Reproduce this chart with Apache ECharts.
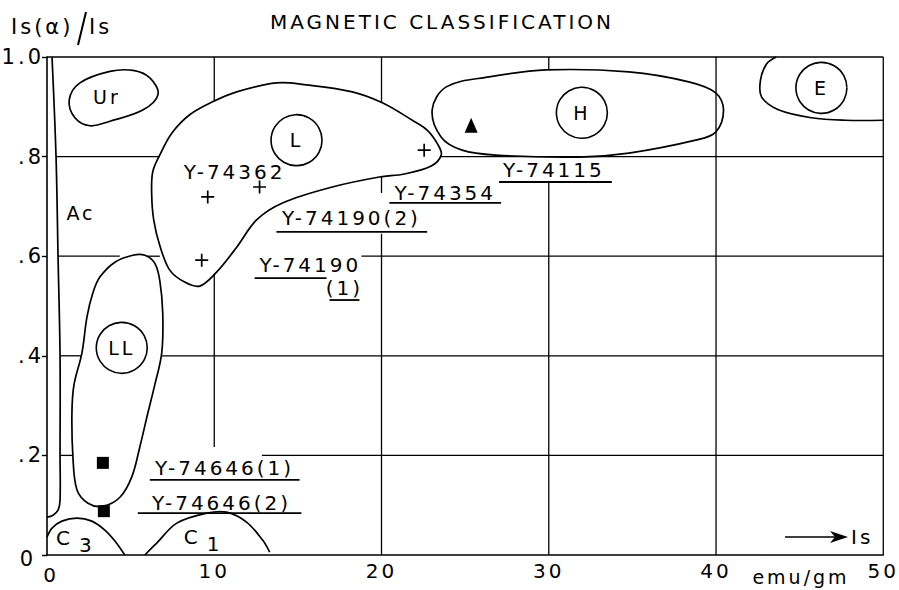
<!DOCTYPE html>
<html>
<head>
<meta charset="utf-8">
<script src="https://cdn.jsdelivr.net/npm/echarts@6/dist/echarts.min.js"></script>
<style>
  html, body { margin: 0; padding: 0; background: #fff; }
  #chart { width: 899px; height: 590px; }
  #chart text { letter-spacing: 3px; }
</style>
</head>
<body>
<div id="chart"></div>
<script>
// Axis ticks and labels
const xTicks = [0, 10, 20, 30, 40, 50];
const yTickLabels = ['0', '.2', '.4', '.6', '.8', '1.0'];

// Class boundaries, points given as [Is (emu/gm), Is(α)/Is]
const urOutline = [[1.33, 0.914], [1.97, 0.948], [3.76, 0.971], [5.15, 0.973], [6.15, 0.958], [6.64, 0.925],
  [5.75, 0.894], [3.76, 0.871], [2.57, 0.862], [1.67, 0.878]];
const lOutline = [[6.26, 0.723], [6.32, 0.769], [6.74, 0.803], [7.46, 0.847], [8.53, 0.884], [9.90, 0.910],
  [11.34, 0.930], [13.72, 0.948], [15.51, 0.944], [18.26, 0.930], [20.05, 0.908], [21.84, 0.873],
  [22.73, 0.853], [23.39, 0.823], [23.57, 0.803], [22.97, 0.781], [21.36, 0.765], [19.87, 0.759],
  [17.06, 0.739], [14.08, 0.707], [12.53, 0.673], [11.34, 0.618], [10.14, 0.568], [9.13, 0.540],
  [8.23, 0.548], [7.34, 0.572], [6.74, 0.622], [6.38, 0.673]];
const hOutline = [[23.03, 0.894], [23.87, 0.940], [26.43, 0.960], [29.83, 0.974], [34.79, 0.970], [38.37, 0.950],
  [39.98, 0.928], [40.45, 0.894], [39.98, 0.849], [38.78, 0.833], [34.79, 0.807], [31.80, 0.799],
  [26.85, 0.803], [24.82, 0.813], [23.57, 0.839]];
const eOutline = [[43.6, 1.0], [43.02, 0.986], [42.66, 0.954], [42.72, 0.920], [43.73, 0.894], [45.70, 0.878],
  [47.73, 0.873], [50.0, 0.873]];
const llOutline = [[5.13, 0.602], [5.85, 0.602], [6.44, 0.586], [6.74, 0.552], [6.92, 0.486], [6.86, 0.406],
  [6.44, 0.341], [6.03, 0.285], [5.55, 0.217], [5.07, 0.157], [4.36, 0.116], [3.34, 0.098], [2.45, 0.104],
  [1.79, 0.131], [1.55, 0.197], [1.49, 0.285], [1.61, 0.341], [2.09, 0.406], [2.39, 0.478], [2.74, 0.526],
  [3.16, 0.558], [4.06, 0.588]];
const c3Outline = [[0, 0.036], [0.30, 0.054], [0.89, 0.068], [1.79, 0.074], [2.68, 0.068], [3.46, 0.050],
  [4.06, 0.028], [4.65, 0]];
const c1Outline = [[5.85, 0], [6.56, 0.024], [7.76, 0.064], [9.55, 0.084], [10.74, 0.086], [11.93, 0.066],
  [12.89, 0.030], [13.31, 0.006]];
const acBoundary = [[0.3, 1.0], [0.54, 0.8], [0.66, 0.6], [0.78, 0.4], [0.78, 0.2], [0.78, 0.11],
  [0.66, 0.09], [0.36, 0.08], [0, 0.076]];

// Straight dividers [x1, y1, x2, y2]
const dividers = [
  [0, 1, 50, 1], [50, 1, 50, 0],
  [0.54, 0.8, 6.74, 0.8], [23.57, 0.8, 50, 0.8],
  [0.66, 0.6, 4.35, 0.6], [5.95, 0.6, 6.75, 0.6], [18.8, 0.6, 50, 0.6],
  [0.78, 0.4, 2.09, 0.4], [6.86, 0.4, 50, 0.4],
  [0.78, 0.2, 1.55, 0.2], [12.85, 0.2, 50, 0.2],
  [10, 1, 10, 0.91], [10, 0.565, 10, 0.217],
  [20, 1, 20, 0.908], [20, 0.759, 20, 0.727], [20, 0.645, 20, 0],
  [30, 1, 30, 0.975], [30, 0.749, 30, 0],
  [40, 1, 40, 0]
];

// Samples
const lSamples = [[9.61, 0.719], [12.71, 0.739], [9.25, 0.592], [22.55, 0.813]];
const hSamples = [[25.36, 0.863]];
const llSamples = [[3.34, 0.185], [3.40, 0.088]];

// Sample names and their underlines [x1, x2, y]
const sampleNames = ['Y-74362', 'Y-74190(2)', 'Y-74190', '(1)', 'Y-74354', 'Y-74115', 'Y-74646(1)', 'Y-74646(2)'];
const sampleNameAt = [[11.22, 0.769], [18.2, 0.677], [15.75, 0.582], [17.78, 0.536], [23.81, 0.727],
  [30.31, 0.773], [10.62, 0.175], [10.44, 0.104]];
const sampleRules = [[13.72, 22.73, 0.649], [12.41, 16.71, 0.556], [16.89, 18.68, 0.512], [20.47, 27.15, 0.707],
  [27.03, 33.77, 0.749], [6.15, 15.1, 0.151], [5.43, 15.21, 0.084]];

// Class names
const ringedClasses = ['L', 'H', 'E', 'LL'];
const ringedAt = [[14.92, 0.833], [31.98, 0.888], [46.3, 0.938], [4.47, 0.416]];
const plainClasses = ['Ur', 'Ac'];
const plainAt = [[3.58, 0.92], [2.03, 0.687]];
const subClasses = [['C', '3'], ['C', '1']];
const subAt = [[1.79, 0.030], [9.43, 0.032]];

const FONT = '"DejaVu Sans", sans-serif';
const INK = '#000';

function curve(pts, closed) {
  return {
    type: 'custom', coordinateSystem: 'cartesian2d', silent: true, clip: false, z: 3,
    data: [pts[0]],
    renderItem: (params, api) => ({
      type: closed ? 'polygon' : 'polyline',
      shape: { points: pts.map(p => api.coord(p)), smooth: 0.35 },
      style: { fill: 'none', stroke: INK, lineWidth: 1.7 }
    })
  };
}

function segments(data, width) {
  return {
    type: 'custom', coordinateSystem: 'cartesian2d', silent: true, clip: false, z: 2,
    data: data,
    encode: { x: [0, 2], y: [1, 3] },
    renderItem: (params, api) => {
      const a = api.coord([api.value(0), api.value(1)]);
      const b = api.coord([api.value(2), api.value(3)]);
      return { type: 'line', shape: { x1: a[0], y1: a[1], x2: b[0], y2: b[1] },
        style: { stroke: INK, lineWidth: width } };
    }
  };
}

function texts(names, at, size) {
  return {
    type: 'custom', coordinateSystem: 'cartesian2d', silent: true, clip: false, z: 5,
    data: at.map((p, i) => [p[0], p[1], i]),
    renderItem: (params, api) => {
      const c = api.coord([api.value(0), api.value(1)]);
      return { type: 'text', x: c[0], y: c[1],
        style: { text: names[api.value(2)], fontSize: size, fontFamily: FONT, fill: '#000',
          align: 'center', verticalAlign: 'middle' } };
    }
  };
}

const chart = echarts.init(document.getElementById('chart'), null, { renderer: 'svg' });

chart.setOption({
  backgroundColor: '#fff',
  animation: false,
  grid: { left: 47, right: 14, top: 57, bottom: 35 },
  xAxis: {
    type: 'value', min: xTicks[0], max: xTicks[xTicks.length - 1], interval: 10,
    axisLine: { lineStyle: { color: INK, width: 1.6 } },
    axisTick: { show: false }, splitLine: { show: false },
    axisLabel: { color: '#000', fontSize: 20, fontFamily: FONT, margin: 6,
      formatter: v => (v === 0 ? '{z|0}' : String(v)),
      rich: { z: { fontSize: 20, fontFamily: FONT, color: '#000', padding: [4, 0, 0, 8] } } }
  },
  yAxis: {
    type: 'value', min: 0, max: 1, interval: 0.2,
    axisLine: { show: true, lineStyle: { color: INK, width: 1.6 } },
    axisTick: { show: true, length: 5, lineStyle: { color: INK, width: 1.4 } },
    splitLine: { show: false },
    axisLabel: { color: '#000', fontSize: 21, fontFamily: FONT, margin: 3,
      formatter: v => (v === 0 ? '{z|0}' : yTickLabels[Math.round(v * 5)]),
      rich: { z: { fontSize: 21, fontFamily: FONT, color: '#000', padding: [8, 8, 0, 0] } } }
  },
  graphic: [
    { type: 'text', x: 442, y: 22, style: { text: 'MAGNETIC CLASSIFICATION', fontSize: 20, fontFamily: FONT,
      fill: '#000', align: 'center', verticalAlign: 'middle' } },
    { type: 'text', x: 11, y: 27, style: { text: 'Is(α)', fontSize: 21, fontFamily: FONT, fill: '#000',
      align: 'left', verticalAlign: 'middle' } },
    { type: 'line', shape: { x1: 78, y1: 45, x2: 86, y2: 12 }, style: { stroke: '#000', lineWidth: 2 } },
    { type: 'text', x: 89, y: 27, style: { text: 'Is', fontSize: 21, fontFamily: FONT, fill: '#000',
      align: 'left', verticalAlign: 'middle' } },
    { type: 'line', shape: { x1: 785, y1: 537, x2: 840, y2: 537 }, style: { stroke: '#000', lineWidth: 1.6 } },
    { type: 'polygon', shape: { points: [[830, 531], [848, 537], [830, 543], [835, 537]] }, style: { fill: '#000' } },
    { type: 'text', x: 851, y: 537, style: { text: 'Is', fontSize: 20, fontFamily: FONT, fill: '#000',
      align: 'left', verticalAlign: 'middle' } },
    { type: 'text', x: 801, y: 577, style: { text: 'emu/gm', fontSize: 19, fontFamily: FONT, fill: '#000',
      align: 'center', verticalAlign: 'middle' } }
  ],
  series: [
    segments(dividers, 1.3),
    curve(urOutline, true),
    curve(lOutline, true),
    curve(hOutline, true),
    curve(llOutline, true),
    curve(eOutline, false),
    curve(c3Outline, false),
    curve(c1Outline, false),
    curve(acBoundary, false),
    segments(sampleRules.map(r => [r[0], r[2], r[1], r[2]]), 1.8),
    {
      type: 'scatter', silent: true, z: 6, data: lSamples,
      symbol: 'path://M0,6L12,6M6,0L6,12', symbolSize: 13,
      itemStyle: { color: 'none', borderColor: '#000', borderWidth: 1.7, opacity: 1 }
    },
    {
      type: 'scatter', silent: true, z: 6, data: hSamples,
      symbol: 'triangle', symbolSize: [13, 15], itemStyle: { color: '#000', opacity: 1 }
    },
    {
      type: 'scatter', silent: true, z: 6, data: llSamples,
      symbol: 'rect', symbolSize: 12, itemStyle: { color: '#000', opacity: 1 }
    },
    {
      type: 'scatter', silent: true, z: 6, data: ringedAt.map((p, i) => ({ value: p, name: ringedClasses[i] })),
      symbol: 'circle', symbolSize: 51,
      itemStyle: { color: 'none', borderColor: INK, borderWidth: 1.6, opacity: 1 },
      label: { show: true, position: 'inside', formatter: p => p.name, color: '#000', fontSize: 19, fontFamily: FONT }
    },
    texts(plainClasses, plainAt, 19),
    {
      type: 'custom', coordinateSystem: 'cartesian2d', silent: true, clip: false, z: 5,
      data: subAt.map((p, i) => [p[0], p[1], i]),
      renderItem: (params, api) => {
        const c = api.coord([api.value(0), api.value(1)]);
        const s = subClasses[api.value(2)];
        return { type: 'group', children: [
          { type: 'text', x: c[0] - 4, y: c[1] - 2, style: { text: s[0], fontSize: 20, fontFamily: FONT, fill: '#000',
            align: 'right', verticalAlign: 'middle' } },
          { type: 'text', x: c[0] + 2, y: c[1] + 5, style: { text: s[1], fontSize: 20, fontFamily: FONT, fill: '#000',
            align: 'left', verticalAlign: 'middle' } }
        ] };
      }
    },
    texts(sampleNames, sampleNameAt, 20)
  ]
});
</script>
</body>
</html>
